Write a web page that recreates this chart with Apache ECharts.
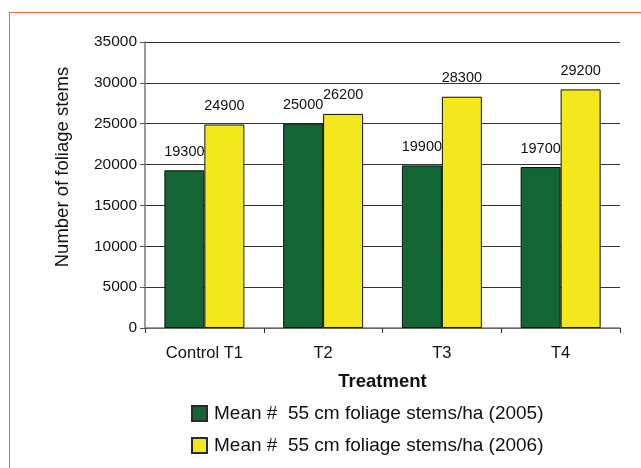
<!DOCTYPE html>
<html><head><meta charset="utf-8">
<script src="https://cdn.jsdelivr.net/npm/echarts@6/dist/echarts.min.js"></script>
<style>
html,body{margin:0;padding:0;background:#fff;}
#frame{position:absolute;left:9px;top:12px;width:640px;height:470px;border-left:1.5px solid #f26b3a;border-top:1.5px solid #f26b3a;}
#c{position:absolute;left:0;top:0;width:641px;height:468px;}
</style></head>
<body>
<div id="frame"></div>
<div id="c"></div>
<script>
const categories = ['Control T1', 'T2', 'T3', 'T4'];
const series2005 = [19300, 25000, 19900, 19700];
const series2006 = [24900, 26200, 28300, 29200];
const seriesNames = ['Mean #  55 cm foliage stems/ha (2005)', 'Mean #  55 cm foliage stems/ha (2006)'];
const yTicks = {min: 0, max: 35000, interval: 5000};

const chart = echarts.init(document.getElementById('c'), null, {renderer: 'canvas'});
const font = 'Liberation Sans, Arial, sans-serif';
const lbl = {show: true, position: 'top', distance: 11, color: '#111', fontSize: 14.5, fontFamily: font};
chart.setOption({
  animation: false,
  grid: {left: 145, right: 21, top: 42, bottom: 140, containLabel: false},
  xAxis: {
    type: 'category', data: categories,
    axisLine: {lineStyle: {color: '#7a7a7a', width: 1.5}},
    axisTick: {show: true, length: 5, lineStyle: {color: '#333'}},
    axisLabel: {color: '#111', fontSize: 16.5, fontFamily: font, margin: 17},
    name: 'Treatment', nameLocation: 'middle', nameGap: 44,
    nameTextStyle: {color: '#111', fontSize: 18.5, fontWeight: 'bold', fontFamily: font}
  },
  yAxis: {
    type: 'value', min: yTicks.min, max: yTicks.max, interval: yTicks.interval,
    axisLine: {show: true, lineStyle: {color: '#7a7a7a', width: 1.5}},
    axisTick: {show: true, length: 5, lineStyle: {color: '#555'}},
    axisLabel: {color: '#111', fontSize: 15.5, fontFamily: font, margin: 8, formatter: v => String(v)},
    splitLine: {show: true, lineStyle: {color: '#333', width: 1}},
    name: 'Number of foliage stems', nameLocation: 'middle', nameGap: 73,
    nameTextStyle: {color: '#111', fontSize: 18.5, fontFamily: font, padding: [0, 0, 0, 36]}
  },
  legend: {
    orient: 'vertical', left: 186, top: 399, itemGap: 13,
    itemWidth: 15, itemHeight: 15, icon: 'rect',
    itemStyle: {borderColor: '#2a2a2a', borderWidth: 2},
    textStyle: {color: '#111', fontSize: 19, fontFamily: font, padding: [0,0,0,2]},
    data: seriesNames
  },
  series: [
    {name: seriesNames[0], type: 'bar', data: series2005, barWidth: 40, barGap: '0%',
     itemStyle: {color: '#136535', borderColor: '#111', borderWidth: 1}, label: lbl},
    {name: seriesNames[1], type: 'bar', data: series2006, barWidth: 40,
     itemStyle: {color: '#f2e81c', borderColor: '#111', borderWidth: 1}, label: lbl}
  ]
});
</script>
</body></html>
